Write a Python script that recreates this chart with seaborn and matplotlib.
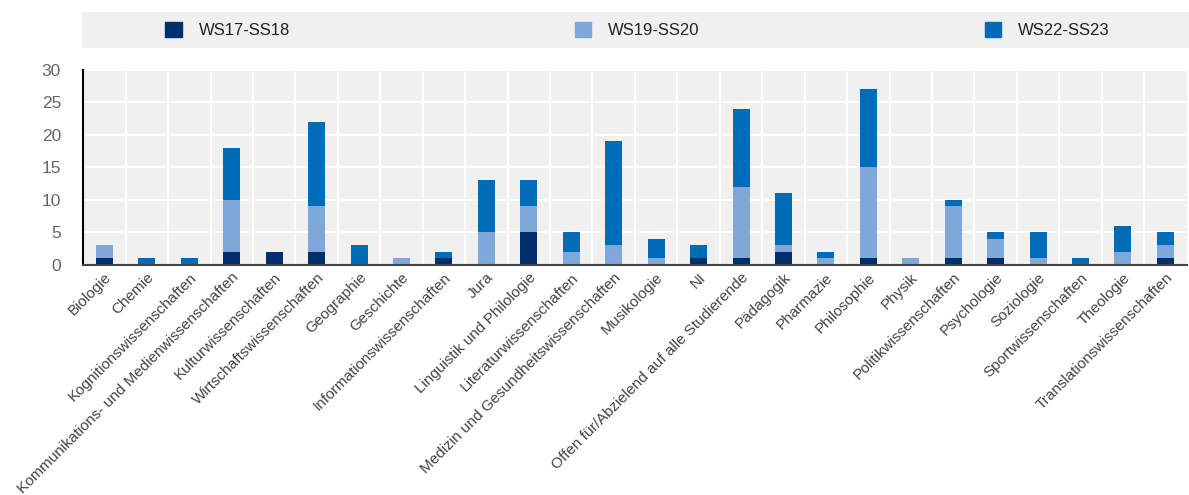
import matplotlib
matplotlib.use("Agg")
import matplotlib.pyplot as plt
import seaborn as sns
import numpy as np
import pandas as pd

categories = ["Biologie", "Chemie", "Kognitionswissenschaften",
              "Kommunikations- und Medienwissenschaften", "Kulturwissenschaften",
              "Wirtschaftswissenschaften", "Geographie", "Geschichte",
              "Informationswissenschaften", "Jura", "Linguistik und Philologie",
              "Literaturwissenschaften", "Medizin und Gesundheitswissenschaften",
              "Musikologie", "NI", "Offen für/Abzielend auf alle Studierende",
              "Pädagogik", "Pharmazie", "Philosophie", "Physik",
              "Politikwissenschaften", "Psychologie", "Soziologie",
              "Sportwissenschaften", "Theologie", "Translationswissenschaften"]
ws17 = [1, 0, 0, 2, 2, 2, 0, 0, 1, 0, 5, 0, 0, 0, 1, 1, 2, 0, 1, 0, 1, 1, 0, 0, 0, 1]
ws19 = [2, 0, 0, 8, 0, 7, 0, 1, 0, 5, 4, 2, 3, 1, 0, 11, 1, 1, 14, 1, 8, 3, 1, 0, 2, 2]
ws22 = [0, 1, 1, 8, 0, 13, 3, 0, 1, 8, 4, 3, 16, 3, 2, 12, 8, 1, 12, 0, 1, 1, 4, 1, 4, 2]
series_names = ["WS17-SS18", "WS19-SS20", "WS22-SS23"]
colors = ["#002F6C", "#7FA8D9", "#006BB6"]

sns.set_theme(style="white")
plt.rcParams["font.family"] = ["Liberation Sans", "DejaVu Sans"]

fig = plt.figure(figsize=(11.89, 4.95), dpi=100)
ax = fig.add_axes([0.07, 0.465, 0.928, 0.394])
ax.set_facecolor("#F0F0F0")

series = [ws17, ws19, ws22]
bottom = np.zeros(len(categories))
for name, vals, col in zip(series_names, series, colors):
    df = pd.DataFrame({"cat": categories, "val": vals})
    sns.barplot(data=df, x="cat", y="val", color=col, bottom=bottom,
                width=0.4, ax=ax, saturation=1, linewidth=0)
    bottom = bottom + np.array(vals)

n = len(categories)
ax.set_xlim(-0.5, n - 0.5)
ax.set_ylim(0, 30)
ax.set_yticks(range(0, 31, 5))
ax.set_xlabel("")
ax.set_ylabel("")
ax.set_axisbelow(True)
ax.yaxis.grid(True, color="white", linewidth=1.5)
for b in np.arange(0.5, n - 0.5, 1):
    ax.axvline(b, color="white", linewidth=1.5, zorder=0.5)
ax.set_xticks(range(n))
ax.set_xticklabels(categories, rotation=45, ha="right", rotation_mode="anchor",
                   fontsize=11, color="#444444")
ax.tick_params(axis="x", length=0, pad=4)
ax.set_xticks(np.arange(-0.5, n, 1), minor=True)
ax.tick_params(axis="x", which="minor", length=4, width=1.2, color="black", direction="inout")
ax.tick_params(axis="y", labelsize=12.5, labelcolor="#666666", length=5, width=1.2,
               color="black", direction="in", pad=16)
for s in ["top", "right"]:
    ax.spines[s].set_visible(False)
ax.spines["left"].set_color("black")
ax.spines["left"].set_linewidth(1.5)
ax.spines["bottom"].set_color("#444444")
ax.spines["bottom"].set_linewidth(1.5)

# legend background band
fig.patches.append(plt.Rectangle((0.069, 0.903), 0.931, 0.073, transform=fig.transFigure,
                                 facecolor="#F0F0F0", edgecolor="none", zorder=0))
handles = [plt.Rectangle((0, 0), 1, 1, color=c) for c in colors]
leg = fig.legend(handles, series_names, loc="center", ncol=3,
                 bbox_to_anchor=(0.536, 0.94), frameon=False,
                 fontsize=12, handlelength=1.0, handleheight=1.0,
                 handletextpad=1.0, columnspacing=17.1)
for t in leg.get_texts():
    t.set_color("#222222")

fig.savefig("out.png", dpi=100)
